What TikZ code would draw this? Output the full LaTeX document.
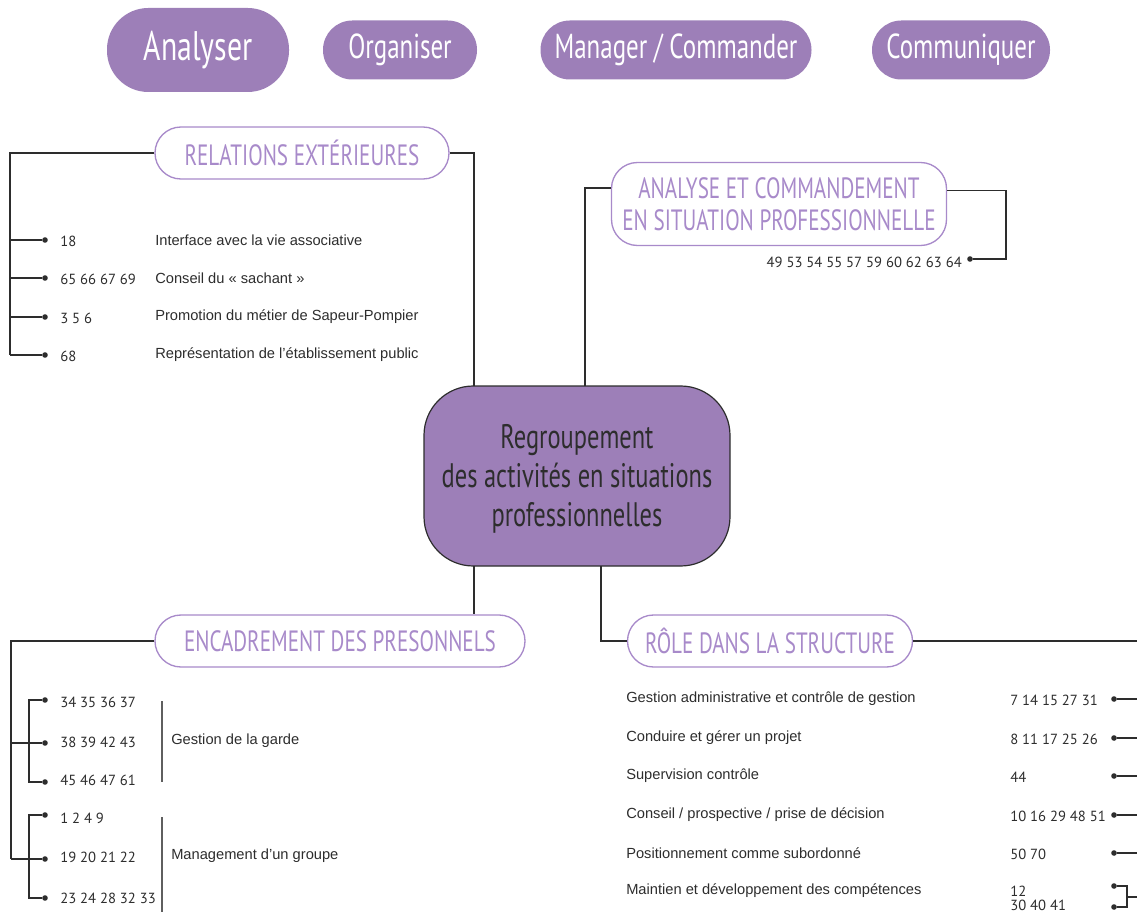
\documentclass[tikz,border=0pt]{standalone}
\usepackage{fontspec}
\setmainfont{Liberation Sans}
\newfontfamily\headfont[FakeStretch=0.72]{PT Sans}
\newfontfamily\numfont{PT Sans}
\definecolor{mauve}{RGB}{157,127,184}
\definecolor{lilas}{RGB}{168,138,202}
\definecolor{trait}{RGB}{45,45,45}
\definecolor{barre}{RGB}{95,95,95}

\begin{document}
\begin{tikzpicture}[x=0.75pt, y=-0.75pt,
    bouton/.style={fill=mauve, rounded corners=22pt, minimum height=44.25pt,
      text=white, inner sep=0, font=\headfont\fontsize{26}{28}\selectfont},
    titre/.style={draw=lilas, line width=1pt, fill=white, rounded corners=19.5pt,
      minimum height=39pt, inner sep=0, text=lilas,
      font=\headfont\fontsize{22}{24}\selectfont},
    lien/.style={draw=trait, line width=0.9pt},
    point/.style={circle, fill=trait, inner sep=0, minimum size=4.2pt},
    num/.style={inner sep=0, font=\numfont\fontsize{11}{13}\selectfont, text=trait},
    txt/.style={anchor=west, inner sep=0, font=\fontsize{11}{13}\selectfont, text=trait}]
      \useasboundingbox (0,0) rectangle (1137,912);

      % boutons du haut
      \node[bouton, minimum width=136.5pt, minimum height=63pt, rounded corners=31pt,
        font=\headfont\fontsize{31}{33}\selectfont] (analyser) at (198,50) {Analyser};
      \node[bouton, minimum width=115.5pt] (organiser) at (400,50) {Organiser};
      \node[bouton, minimum width=203.25pt] (manager) at (676,50) {Manager / Commander};
      \node[bouton, minimum width=133.5pt] (communiquer) at (961,50) {Communiquer};

      % noeud central
      \node[fill=mauve, draw=trait, line width=0.9pt, rounded corners=37pt,
        minimum width=229.5pt, minimum height=135pt] (centre) at (577,476) {};
      \node[align=center, text=trait, font=\headfont\fontsize{25.5}{29}\selectfont]
        (centretxt) at (577,479) {Regroupement\\des activités en situations\\professionnelles};

      % titres
      \node[titre, minimum width=220.5pt] (rel) at (302,153) {RELATIONS EXTÉRIEURES};
      \node[titre, minimum width=251.25pt, minimum height=62.25pt, align=center] (ana) at (779,204)
        {ANALYSE ET COMMANDEMENT\\EN SITUATION PROFESSIONNELLE};
      \node[titre, minimum width=277.5pt] (enc) at (340,641) {ENCADREMENT DES PRESONNELS};
      \node[titre, minimum width=213.75pt] (role) at (770,641) {RÔLE DANS LA STRUCTURE};

      \coordinate (c1) at (474,386);
      \coordinate (c2) at (585,386);
      \coordinate (c3) at (474,566);
      \coordinate (c4) at (601,566);
      \coordinate (bord) at (1137,641);

      \draw[lien] (rel.east) -| (c1);
      \draw[lien] ([yshift=12pt]ana.west) -| (c2);
      \draw[lien] (c3) -- (enc.north -| c3);
      \draw[lien] (c4) |- (role.west);

      % relations exterieures
      \coordinate (relbas) at (10,355);
      \draw[lien] (rel.west) -| (relbas);
      \foreach \y/\n/\t [count=\i] in {240/18/Interface avec la vie associative,
          278/65 66 67 69/Conseil du «~sachant~»,
          317/3 5 6/Promotion du métier de Sapeur-Pompier,
          355/68/Représentation de l’établissement public}{
        \node[point] (r\i) at (45,\y) {};
        \draw[lien] (10,\y) -- (r\i);
        \node[num, anchor=west] at (60,\y+1) {\n};
        \node[txt] at (155,\y) {\t};
      }

      % analyse et commandement
      \node[point] (a1) at (970,259) {};
      \draw[lien] ([yshift=10pt]ana.east) -| (1006,259) -- (a1);
      \node[num, anchor=east] at (962,262) {49 53 54 55 57 59 60 62 63 64};

      % encadrement des personnels
      \coordinate (encbas) at (11,859);
      \draw[lien] (enc.west) -| (encbas);
      \foreach \y/\ny/\n [count=\i] in {700/702/34 35 36 37, 743/742/38 39 42 43, 782/780/45 46 47 61,
          815/818/1 2 4 9, 859/857/19 20 21 22, 898/898/23 24 28 32 33}{
        \node[point] (e\i) at (45,\y) {};
        \node[num, anchor=west] at (60,\ny) {\n};
      }
      \draw[lien] (e1) -| (29,782) -- (e3);
      \draw[lien] (11,743) -- (e2);
      \draw[lien] (e4) -| (29,898) -- (e6);
      \draw[lien] (encbas) -- (e5);
      \draw[barre, line width=1pt] (162,701) -- (162,782);
      \draw[barre, line width=1pt] (162,817) -- (162,912);
      \node[txt] (garde) at (171,741) {Gestion de la garde};
      \node[txt] (groupe) at (171,856) {Management d’un groupe};

      % role dans la structure
      \draw[lien] (role.east) -- (bord);
      \foreach \y/\n/\t [count=\i] in {699/7 14 15 27 31/Gestion administrative et contrôle de gestion,
          738/8 11 17 25 26/Conduire et gérer un projet,
          776/44/Supervision contrôle,
          815/10 16 29 48 51/{Conseil / prospective / prise de décision},
          853/50 70/Positionnement comme subordonné}{
        \node[txt] at (626,\y) {\t};
        \node[num, anchor=west] at (1010,\y+1) {\n};
        \node[point] (s\i) at (1114,\y) {};
        \draw[lien] (s\i) -- (1137,\y);
      }
      \node[txt] at (626,891) {Maintien et développement des compétences};
      \node[num, anchor=west] at (1010,891) {12};
      \node[num, anchor=west] at (1010,905) {30 40 41};
      \node[point] (s6) at (1114,886) {};
      \node[point] (s7) at (1114,907) {};
      \draw[lien] (s6) -| (1127,907) -- (s7);
      \draw[lien] (1127,897) -- (1137,897);
\end{tikzpicture}
\end{document}
